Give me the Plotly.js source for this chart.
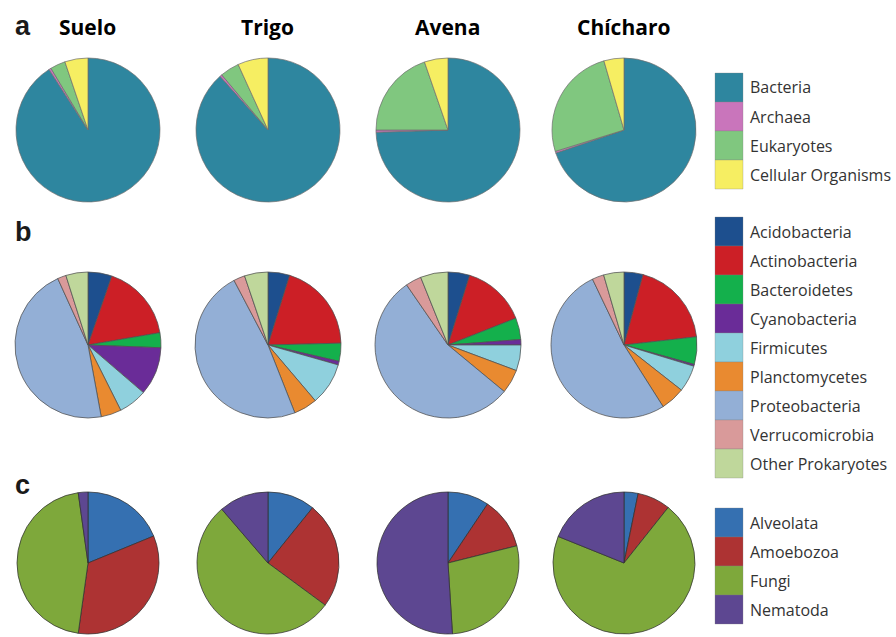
<!DOCTYPE html>
<html>
<head>
<meta charset="utf-8">
<script src="https://cdn.plot.ly/plotly-3.0.1.min.js"></script>
<style>
  html, body { margin: 0; padding: 0; background: #ffffff; }
  #chart { width: 896px; height: 637px; }
</style>
</head>
<body>
<div id="chart"></div>
<script>
// Sites (columns) and panel letters (rows)
const sites = ['Suelo', 'Trigo', 'Avena', 'Chícharo'];
const panelLetters = ['a', 'b', 'c'];

// Panel a: domains of life (% of reads)
const domainLabels = ['Bacteria', 'Archaea', 'Eukaryotes', 'Cellular Organisms'];
const domainColors = ['#2e869f', '#c975bb', '#80c77f', '#f6ee62'];
const domainSuelo    = [90.9, 0.5, 3.4, 5.2];
const domainTrigo    = [88.4, 0.5, 4.3, 6.8];
const domainAvena    = [74.5, 0.5, 19.7, 5.3];
const domainChicharo = [69.8, 0.4, 25.3, 4.5];

// Panel b: bacterial phyla (% of prokaryotic reads)
const phylumLabels = ['Acidobacteria', 'Actinobacteria', 'Bacteroidetes', 'Cyanobacteria',
  'Firmicutes', 'Planctomycetes', 'Proteobacteria', 'Verrucomicrobia', 'Other Prokaryotes'];
const phylumColors = ['#1d4f8e', '#cc1f26', '#14b04c', '#6a2c98', '#8fd0dd',
  '#e98a30', '#93afd6', '#d99a9a', '#bfd79b'];
const phylumSuelo    = [5.3, 17.0, 3.3, 10.7, 6.3, 4.5, 46.1, 1.9, 4.9];
const phylumTrigo    = [4.8, 19.8, 4.0, 0.8, 9.4, 5.2, 48.3, 2.5, 5.2];
const phylumAvena    = [4.8, 14.2, 4.8, 1.2, 5.7, 5.3, 54.4, 3.5, 6.1];
const phylumChicharo = [4.2, 19.0, 6.1, 0.4, 5.9, 5.4, 51.9, 2.6, 4.5];

// Panel c: eukaryotic groups (% of eukaryotic reads)
const eukLabels = ['Alveolata', 'Amoebozoa', 'Fungi', 'Nematoda'];
const eukColors = ['#3570b1', '#ad3333', '#7ea83b', '#5d4791'];
const eukSuelo    = [18.8, 33.4, 45.6, 2.2];
const eukTrigo    = [10.8, 24.3, 53.6, 11.3];
const eukAvena    = [9.4, 11.7, 27.9, 51.0];
const eukChicharo = [3.2, 7.5, 70.4, 18.9];

const W = 896, H = 637;
const px = x => x / W;
const py = y => 1 - y / H;

const rows = [
  { labels: domainLabels, colors: domainColors,
    values: [domainSuelo, domainTrigo, domainAvena, domainChicharo],
    cy: 130, r: 72, legendTop: 73, line: 'rgba(110,110,110,0.7)' },
  { labels: phylumLabels, colors: phylumColors,
    values: [phylumSuelo, phylumTrigo, phylumAvena, phylumChicharo],
    cy: 345, r: 73, legendTop: 217, line: 'rgba(80,80,80,0.75)' },
  { labels: eukLabels, colors: eukColors,
    values: [eukSuelo, eukTrigo, eukAvena, eukChicharo],
    cy: 563, r: 71, legendTop: 508, line: 'rgba(50,50,50,0.75)' }
];
const colX = [88, 268, 448, 624];
const letterY = [26, 232, 485];
const legendStep = 29;

const traces = [];
const shapes = [];
const annotations = [];

rows.forEach((row, ri) => {
  row.values.forEach((vals, ci) => {
    const cx = colX[ci];
    traces.push({
      type: 'pie',
      labels: row.labels,
      values: vals,
      sort: false,
      direction: 'clockwise',
      rotation: 0,
      textinfo: 'none',
      hoverinfo: 'label+percent',
      showlegend: false,
      marker: { colors: row.colors, line: { color: row.line, width: 1 } },
      domain: { x: [px(cx - row.r), px(cx + row.r)], y: [py(row.cy + row.r), py(row.cy - row.r)] }
    });
  });

  // legend block: stacked swatches with names
  row.labels.forEach((lab, k) => {
    const y0 = row.legendTop + k * legendStep;
    shapes.push({
      type: 'rect', xref: 'paper', yref: 'paper',
      x0: px(715), x1: px(743), y0: py(y0), y1: py(y0 + legendStep),
      fillcolor: row.colors[k], line: { color: 'rgba(130,130,130,0.5)', width: 0.6 }
    });
    annotations.push({
      xref: 'paper', yref: 'paper', x: px(748), y: py(y0 + legendStep / 2),
      xanchor: 'left', yanchor: 'middle', showarrow: false, text: lab,
      font: { family: 'Open Sans, sans-serif', size: 16, color: '#333333' }
    });
  });

  annotations.push({
    xref: 'paper', yref: 'paper', x: px(13), y: py(letterY[ri]),
    xanchor: 'left', yanchor: 'middle', showarrow: false, text: '<b>' + panelLetters[ri] + '</b>',
    font: { family: 'Liberation Sans, Arial, sans-serif', size: 27, color: '#1a1a1a' }
  });
});

sites.forEach((s, ci) => {
  annotations.push({
    xref: 'paper', yref: 'paper', x: px(colX[ci] - 1), y: py(27),
    xanchor: 'center', yanchor: 'middle', showarrow: false, text: '<b>' + s + '</b>',
    font: { family: 'Open Sans, sans-serif', size: 21, color: '#000000' }
  });
});

const layout = {
  width: W, height: H,
  margin: { l: 0, r: 0, t: 0, b: 0 },
  paper_bgcolor: '#ffffff',
  showlegend: false,
  shapes: shapes,
  annotations: annotations
};

Plotly.newPlot('chart', traces, layout, { displayModeBar: false, staticPlot: true });
</script>
</body>
</html>
